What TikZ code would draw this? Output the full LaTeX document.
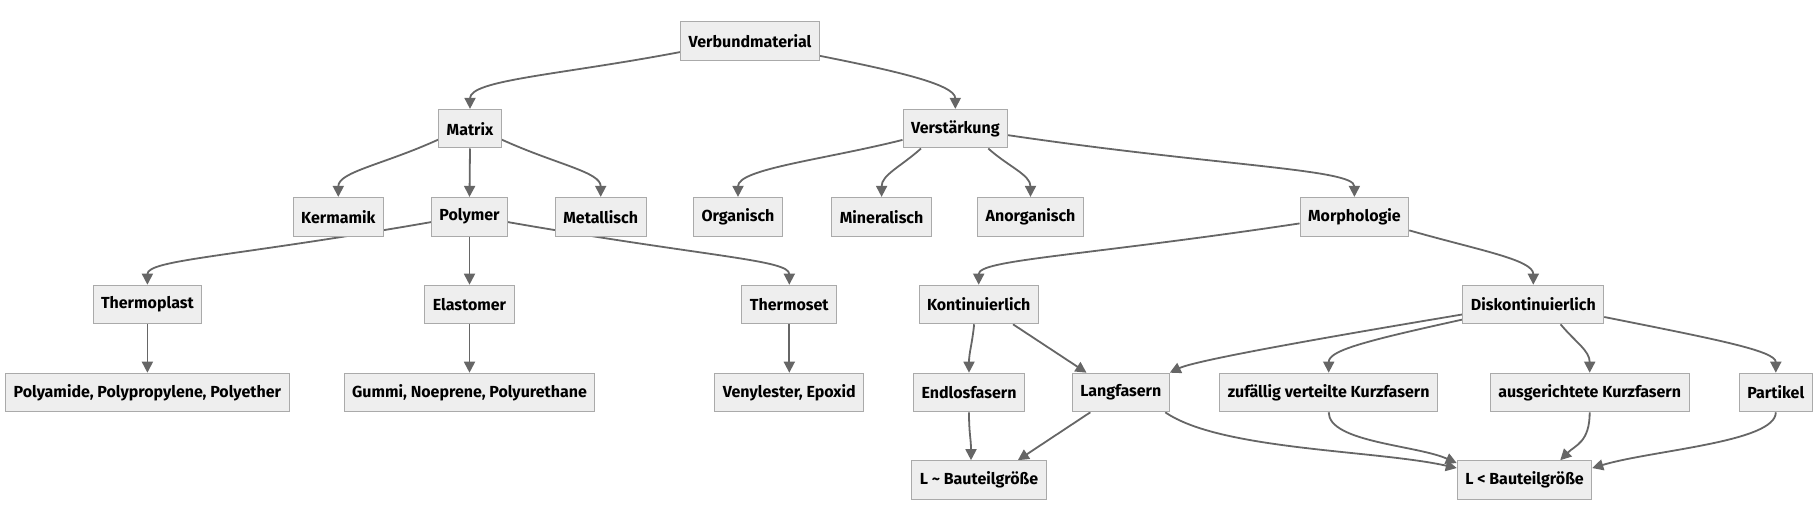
\documentclass[tikz,border=0pt]{standalone}
\usepackage{fontspec}
\setmainfont{Fira Sans}
\usetikzlibrary{arrows.meta,backgrounds}
\definecolor{boxfill}{RGB}{238,238,238}
\definecolor{boxline}{RGB}{170,170,170}
\definecolor{edgegray}{RGB}{102,102,102}

\begin{document}
\begin{tikzpicture}[x=1pt, y=-1pt,
    box/.style={draw=boxline, fill=boxfill, line width=1pt, minimum height=38.6pt, inner xsep=8pt, inner ysep=0pt, font=\fontsize{16}{19}\selectfont\bfseries},
    edge/.style={draw=edgegray, line width=1.8pt, -{Triangle[length=11pt,width=11pt]}}]
  \useasboundingbox (0,0) rectangle (1817,513);

  % top levels
  \node[box] (verbund) at (750,41) {Verbundmaterial};
  \node[box] (matrix) at (470,128.7) {Matrix};
  \node[box] (verst) at (955.3,128.7) {Verstärkung};

  \node[box] (keramik) at (338.3,216.7) {Kermamik};
  \node[box] (polymer) at (469.5,216.7) {Polymer};
  \node[box] (metall) at (600.7,216.7) {Metallisch};
  \node[box] (organ) at (738,216.7) {Organisch};
  \node[box] (mineral) at (881.6,216.7) {Mineralisch};
  \node[box] (anorg) at (1030.5,216.7) {Anorganisch};
  \node[box] (morph) at (1354.4,216.7) {Morphologie};

  \node[box] (thplast) at (147.4,304.5) {Thermoplast};
  \node[box] (elast) at (469.5,304.5) {Elastomer};
  \node[box] (thset) at (789.3,304.5) {Thermoset};
  \node[box] (kont) at (978.7,304.5) {Kontinuierlich};
  \node[box] (diskont) at (1533.3,304.5) {Diskontinuierlich};

  \node[box] (plastex) at (147.4,392.5) {Polyamide, Polypropylene, Polyether};
  \node[box] (elastex) at (469.5,392.5) {Gummi, Noeprene, Polyurethane};
  \node[box] (setex) at (789.3,392.5) {Venylester, Epoxid};
  \node[box] (endlos) at (969,392.5) {Endlosfasern};
  \node[box] (lang) at (1120.8,392.5) {Langfasern};
  \node[box] (zufall) at (1328.7,392.5) {zufällig verteilte Kurzfasern};
  \node[box] (ausger) at (1589.7,392.5) {ausgerichtete Kurzfasern};
  \node[box] (partikel) at (1775.8,392.5) {Partikel};

  \node[box] (lsim) at (979,480) {L \textasciitilde{} Bauteilgröße};
  \node[box] (lless) at (1524.5,480) {L < Bauteilgröße};

  % connectors behind the boxes
  \begin{scope}[on background layer]
    \draw[edge] (verbund.189) .. controls +(-121,23) and +(0,-29) .. (matrix.north);
    \draw[edge] (verbund.348) .. controls +(70,14) and +(0,-25) .. (verst.north);
    \draw[edge] (matrix.199) .. controls +(-55,25) and +(0,-25) .. (keramik.north);
    \draw[edge] (matrix.south) -- (polymer.north);
    \draw[edge] (matrix.341) .. controls +(55,25) and +(0,-25) .. (metall.north);
    \draw[edge] (verst.192) .. controls +(-80,20) and +(0,-28) .. (organ.north);
    \draw[edge] (verst.210) .. controls +(-20,18) and +(0,-22) .. (mineral.north);
    \draw[edge] (verst.329) .. controls +(20,18) and +(0,-22) .. (anorg.north);
    \draw[edge] (verst.353) .. controls +(210,31) and +(0,-28) .. (morph.north);

    \draw[edge] (polymer.188) .. controls +(-200,35) and +(0,-25) .. (thplast.north);
    \draw[edge] (polymer.south) -- (elast.north);
    \draw[edge] (polymer.352) .. controls +(200,35) and +(0,-25) .. (thset.north);
    \draw[edge] (thplast.south) -- (plastex.north);
    \draw[edge] (elast.south) -- (elastex.north);
    \draw[edge] (thset.south) -- (setex.north);

    \draw[edge] (morph.187) .. controls +(-220,33) and +(0,-25) .. (kont.north);
    \draw[edge] (morph.346) .. controls +(70,20) and +(0,-25) .. (diskont.north);
    \draw[edge] (kont.257) .. controls +(-2,20) and +(0,-20) .. (endlos.north);
    \draw[edge] (kont.330) -- (lang.150);
    \draw[edge] (diskont.188) .. controls +(-150,25) and +(25,-12) .. (lang.north east);
    \draw[edge] (diskont.192) .. controls +(-100,22) and +(0,-22) .. (zufall.north);
    \draw[edge] (diskont.324) .. controls +(15,18) and +(0,-22) .. (ausger.north);
    \draw[edge] (diskont.350) .. controls +(110,22) and +(0,-22) .. (partikel.north);

    \draw[edge] (endlos.south) .. controls +(0,22) and +(0,-22) .. (lsim.112);
    \draw[edge] (lang.213) -- (lsim.27);
    \draw[edge] (lang.336) .. controls +(55,38) and +(-80,-18) .. (lless.170);
    \draw[edge] (zufall.south) .. controls +(0,30) and +(-40,-18) .. (lless.166);
    \draw[edge] (ausger.south) .. controls +(0,30) and +(15,-15) .. (lless.29);
    \draw[edge] (partikel.south) .. controls +(0,30) and +(60,-18) .. (lless.10);
  \end{scope}
\end{tikzpicture}
\end{document}
